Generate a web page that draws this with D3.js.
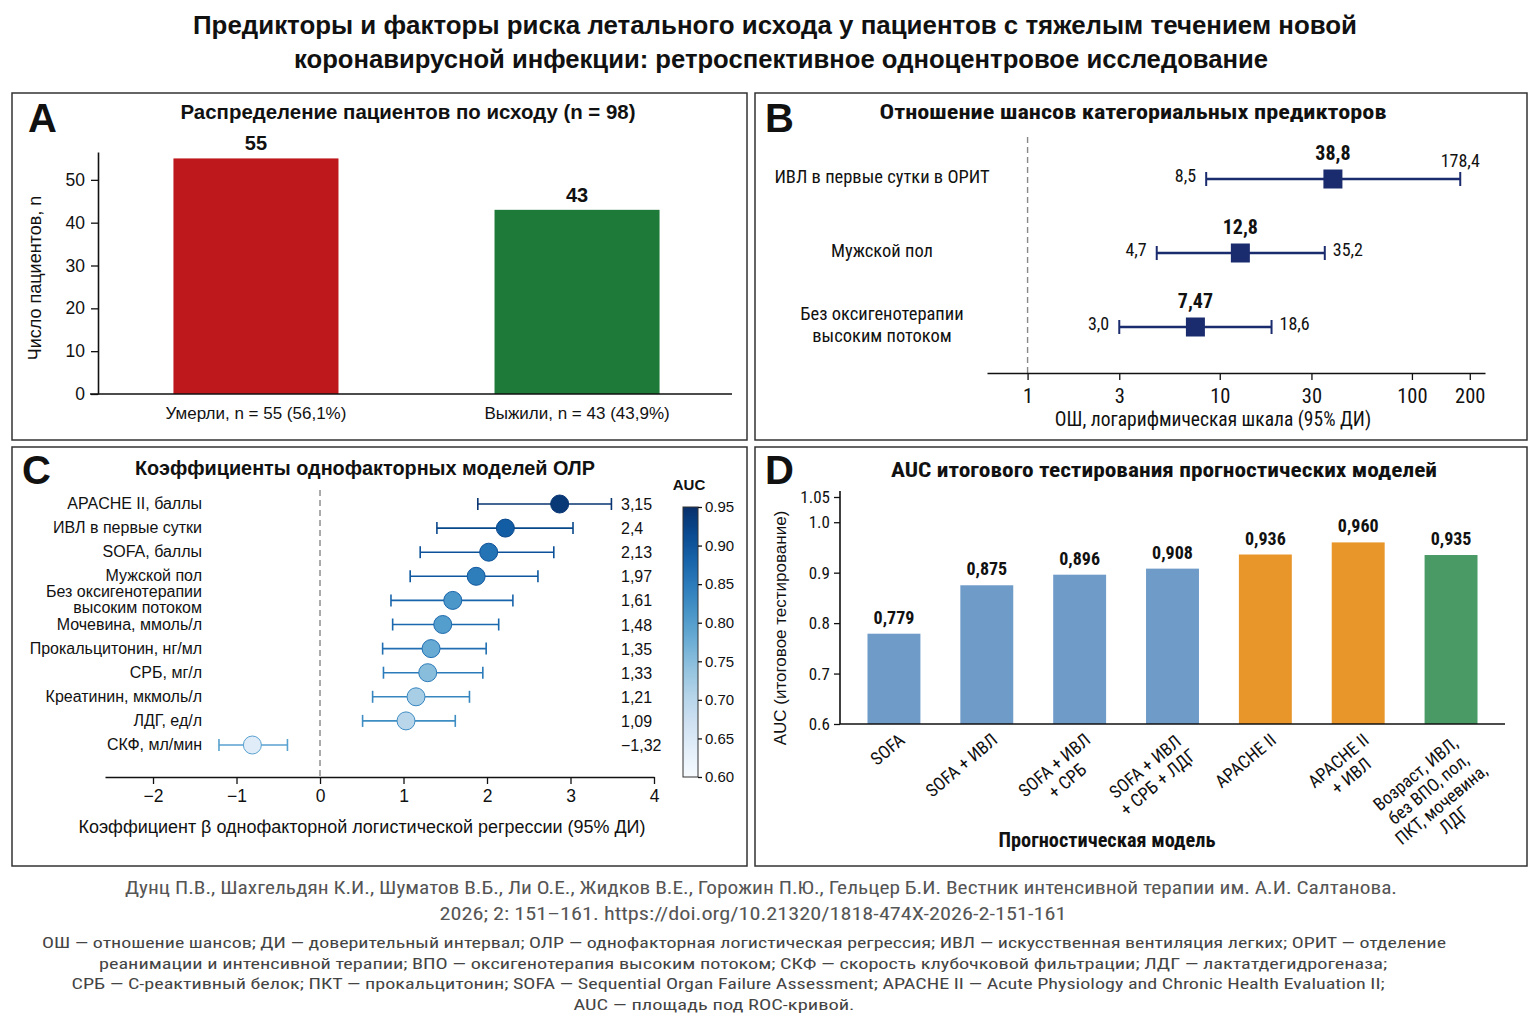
<!DOCTYPE html>
<html><head><meta charset="utf-8">
<script src="https://cdn.jsdelivr.net/npm/d3@7/dist/d3.min.js"></script>
<style>
html,body{margin:0;padding:0;background:#fff;}
svg{display:block;}
</style></head>
<body><svg id="c" width="1536" height="1024"></svg>
<script>
// ---------------- DATA ----------------
const titleLines = [
  "Предикторы и факторы риска летального исхода у пациентов с тяжелым течением новой",
  "коронавирусной инфекции: ретроспективное одноцентровое исследование"
];
// Panel A
const outcomeCategories = ["Умерли, n = 55 (56,1%)", "Выжили, n = 43 (43,9%)"];
const outcomeCounts = [55, 43];
const outcomeTicks = [0, 10, 20, 30, 40, 50];
// Panel B
const orPredictors = ["ИВЛ в первые сутки в ОРИТ", "Мужской пол", "Без оксигенотерапии\nвысоким потоком"];
const orEstimates = [38.8, 12.8, 7.47];
const orLower = [8.5, 4.7, 3.0];
const orUpper = [178.4, 35.2, 18.6];
const orEstimateLabels = ["38,8", "12,8", "7,47"];
const orLowerLabels = ["8,5", "4,7", "3,0"];
const orUpperLabels = ["178,4", "35,2", "18,6"];
const orTicks = [1, 3, 10, 30, 100, 200];
// Panel C
const lrPredictors = ["APACHE II, баллы", "ИВЛ в первые сутки", "SOFA, баллы", "Мужской пол",
  "Без оксигенотерапии\nвысоким потоком", "Мочевина, ммоль/л", "Прокальцитонин, нг/мл", "СРБ, мг/л",
  "Креатинин, мкмоль/л", "ЛДГ, ед/л", "СКФ, мл/мин"];
const lrBeta  = [2.87, 2.22, 2.02, 1.87, 1.59, 1.47, 1.33, 1.29, 1.15, 1.03, -0.81];
const lrLower = [1.89, 1.40, 1.20, 1.08, 0.85, 0.87, 0.75, 0.76, 0.63, 0.51, -1.21];
const lrUpper = [3.49, 3.03, 2.80, 2.61, 2.31, 2.14, 1.99, 1.95, 1.79, 1.62, -0.39];
const lrBetaLabels = ["3,15", "2,4", "2,13", "1,97", "1,61", "1,48", "1,35", "1,33", "1,21", "1,09", "\u22121,32"];
const lrAuc = [0.94, 0.89, 0.86, 0.845, 0.81, 0.80, 0.78, 0.75, 0.72, 0.70, 0.64];
const lrTicks = [-2, -1, 0, 1, 2, 3, 4];
const aucColorTicks = [0.60, 0.65, 0.70, 0.75, 0.80, 0.85, 0.90, 0.95];
// Panel D
const models = ["SOFA", "SOFA + ИВЛ", "SOFA + ИВЛ\n+ СРБ", "SOFA + ИВЛ\n+ СРБ + ЛДГ", "APACHE II",
  "APACHE II\n+ ИВЛ", "Возраст, ИВЛ,\nбез ВПО, пол,\nПКТ, мочевина,\nЛДГ"];
const modelAuc = [0.779, 0.875, 0.896, 0.908, 0.936, 0.960, 0.935];
const modelAucLabels = ["0,779", "0,875", "0,896", "0,908", "0,936", "0,960", "0,935"];
const modelFamily = ["SOFA", "SOFA", "SOFA", "SOFA", "APACHE II", "APACHE II", "Многофакторная"];
const modelAxisTicks = [0.6, 0.7, 0.8, 0.9, 1.0, 1.05];
// Footer
const citationLines = [
  "Дунц П.В., Шахгельдян К.И., Шуматов В.Б., Ли О.Е., Жидков В.Е., Горожин П.Ю., Гельцер Б.И. Вестник интенсивной терапии им. А.И. Салтанова.",
  "2026; 2: 151–161. https://doi.org/10.21320/1818-474X-2026-2-151-161"
];
const abbrevLines = [
  "ОШ — отношение шансов; ДИ — доверительный интервал; ОЛР — однофакторная логистическая регрессия; ИВЛ — искусственная вентиляция легких; ОРИТ — отделение",
  "реанимации и интенсивной терапии; ВПО — оксигенотерапия высоким  потоком; СКФ — скорость клубочковой фильтрации; ЛДГ — лактатдегидрогеназа;",
  "СРБ — С-реактивный белок; ПКТ — прокальцитонин; SOFA — Sequential Organ Failure Assessment; APACHE II — Acute Physiology and Chronic Health Evaluation II;",
  "AUC — площадь под ROC-кривой."
];

// ---------------- DRAW ----------------
const SANS = "'Liberation Sans', Arial, Helvetica, sans-serif";
const NARROW = "'Liberation Sans Narrow', 'Roboto Condensed', 'DejaVu Sans Condensed', 'Liberation Sans', sans-serif";
const svg = d3.select("#c");
svg.append("rect").attr("width", 1536).attr("height", 1024).attr("fill", "#fff");

function txt(g, x, y, s, o = {}) {
  const t = g.append("text").attr("x", x).attr("y", y).text(s)
    .attr("font-family", o.family || SANS).attr("font-size", o.size || 16)
    .attr("font-weight", o.weight || "normal").attr("fill", o.fill || "#111")
    .attr("text-anchor", o.anchor || "start");
  if (o.len) t.attr("textLength", o.len).attr("lengthAdjust", "spacingAndGlyphs");
  return t;
}
function styleAxis(g, size, family) {
  g.selectAll("path.domain").attr("stroke", "#111").attr("stroke-width", 1.6);
  g.selectAll(".tick line").attr("stroke", "#111").attr("stroke-width", 1.3);
  g.selectAll(".tick text").attr("font-size", size).attr("font-family", family).attr("fill", "#111");
}

// Title
txt(svg, 775, 34, titleLines[0], {size: 26, weight: "bold", anchor: "middle", len: 1164, family: SANS});
txt(svg, 781, 68, titleLines[1], {size: 26, weight: "bold", anchor: "middle", len: 974, family: SANS});

// Panel boxes
[[12, 93, 735, 347], [755, 93, 772, 347], [12, 447, 735, 419], [755, 447, 772, 419]].forEach(b => {
  svg.append("rect").attr("x", b[0]).attr("y", b[1]).attr("width", b[2]).attr("height", b[3])
    .attr("fill", "none").attr("stroke", "#333").attr("stroke-width", 1.5);
});

// ---------- Panel A ----------
{
  const g = svg.append("g");
  txt(g, 28, 132, "A", {size: 40, weight: "bold", family: SANS});
  txt(g, 408, 119, "Распределение пациентов по исходу (n = 98)", {size: 20.5, weight: "bold", anchor: "middle", len: 455});
  const x = d3.scaleBand().domain(outcomeCategories).range([98, 735]).paddingInner(0.486).paddingOuter(0.235);
  const y = d3.scaleLinear().domain([0, 56.5]).range([394, 152]);
  const col = d3.scaleOrdinal().domain(outcomeCategories).range(["#BE171C", "#1E7A38"]);
  g.selectAll("rect.bar").data(outcomeCounts).join("rect")
    .attr("x", (d, i) => x(outcomeCategories[i])).attr("width", x.bandwidth())
    .attr("y", d => y(d)).attr("height", d => y(0) - y(d))
    .attr("fill", (d, i) => col(outcomeCategories[i]));
  g.selectAll("text.val").data(outcomeCounts).join("text")
    .attr("x", (d, i) => x(outcomeCategories[i]) + x.bandwidth() / 2).attr("y", d => y(d) - 8)
    .attr("text-anchor", "middle").attr("font-family", SANS).attr("font-size", 20).attr("font-weight", "bold")
    .attr("fill", "#111").text(d => d);
  const ya = g.append("g").attr("transform", "translate(98,0)")
    .call(d3.axisLeft(y).tickValues(outcomeTicks).tickSize(7).tickSizeOuter(0).tickPadding(6));
  styleAxis(ya, 17.5, SANS);
  g.append("line").attr("x1", 90).attr("x2", 732).attr("y1", 394).attr("y2", 394).attr("stroke", "#111").attr("stroke-width", 1.6);
  outcomeCategories.forEach(c => txt(g, x(c) + x.bandwidth() / 2, 419, c, {size: 17, anchor: "middle"}));
  txt(g, 0, 0, "Число пациентов, n", {size: 18, anchor: "middle"}).attr("transform", "translate(41,278) rotate(-90)");
}

// ---------- Panel B ----------
{
  const g = svg.append("g");
  txt(g, 765, 132, "B", {size: 40, weight: "bold", family: SANS});
  txt(g, 1133, 119, "Отношение шансов категориальных предикторов", {size: 21, weight: "bold", anchor: "middle", family: NARROW, len: 507});
  const x = d3.scaleLog().domain([0.615, 240]).range([987, 1485]);
  const y = d3.scalePoint().domain(orPredictors).range([179, 327]);
  const navy = "#1B2C6E";
  g.append("line").attr("x1", x(1)).attr("x2", x(1)).attr("y1", 137).attr("y2", 373)
    .attr("stroke", "#888").attr("stroke-width", 1.4).attr("stroke-dasharray", "6,4");
  const xa = g.append("g").attr("transform", "translate(0,373)")
    .call(d3.axisBottom(x).tickValues(orTicks).tickFormat(d3.format("d")).tickSize(7).tickSizeOuter(0).tickPadding(8));
  styleAxis(xa, 20.5, NARROW);
  txt(g, 1213, 426, "ОШ, логарифмическая шкала (95% ДИ)", {size: 19.5, anchor: "middle", family: NARROW});
  orPredictors.forEach((p, i) => {
    const cy = y(p);
    const lines = p.split("\n");
    lines.forEach((l, k) => txt(g, 882, cy + 4 - (lines.length - 1) * 11 + k * 22, l, {size: 18.5, anchor: "middle", family: NARROW}));
    const x0 = x(orLower[i]), x1 = x(orUpper[i]), xm = x(orEstimates[i]);
    g.append("line").attr("x1", x0).attr("x2", x1).attr("y1", cy).attr("y2", cy).attr("stroke", navy).attr("stroke-width", 2.5);
    [x0, x1].forEach(xx => g.append("line").attr("x1", xx).attr("x2", xx).attr("y1", cy - 7).attr("y2", cy + 7).attr("stroke", navy).attr("stroke-width", 2));
    g.append("rect").attr("x", xm - 9.5).attr("y", cy - 9.5).attr("width", 19).attr("height", 19).attr("fill", navy);
    txt(g, xm, cy - 19, orEstimateLabels[i], {size: 20, weight: "bold", anchor: "middle", family: NARROW});
    txt(g, x0 - 10, cy + 3, orLowerLabels[i], {size: 18, anchor: "end", family: NARROW});
    if (x1 > 1440) txt(g, x1, cy - 12, orUpperLabels[i], {size: 18, anchor: "middle", family: NARROW});
    else txt(g, x1 + 8, cy + 3, orUpperLabels[i], {size: 18, family: NARROW});
  });
}

// ---------- Panel C ----------
{
  const g = svg.append("g");
  txt(g, 22, 484, "C", {size: 40, weight: "bold", family: SANS});
  txt(g, 365, 475, "Коэффициенты однофакторных моделей ОЛР", {size: 20, weight: "bold", anchor: "middle", len: 460});
  const x = d3.scaleLinear().domain([-2.575, 4]).range([105, 654]);
  const y = d3.scalePoint().domain(lrPredictors).range([504, 745]);
  const aucScale = d3.scaleLinear().domain([0.60, 0.95]).range([0, 1]).clamp(true);
  const fillC = a => d3.interpolateBlues(aucScale(a));
  const lineC = a => d3.interpolateBlues(0.5 + 0.5 * aucScale(a));
  g.append("line").attr("x1", x(0)).attr("x2", x(0)).attr("y1", 490).attr("y2", 777)
    .attr("stroke", "#888").attr("stroke-width", 1.4).attr("stroke-dasharray", "6,4");
  const xa = g.append("g").attr("transform", "translate(0,777)")
    .call(d3.axisBottom(x).tickValues(lrTicks).tickFormat(d => d < 0 ? "\u2212" + Math.abs(d) : d).tickSize(7).tickSizeOuter(0).tickPadding(6));
  styleAxis(xa, 17.5, SANS);
  txt(g, 362, 833, "Коэффициент β однофакторной логистической регрессии (95% ДИ)", {size: 17.5, anchor: "middle", len: 567});
  lrPredictors.forEach((p, i) => {
    const cy = y(p);
    const lines = p.split("\n");
    lines.forEach((l, k) => txt(g, 202, cy + 5 - (lines.length - 1) * 8 + k * 16, l, {size: 16, anchor: "end"}));
    const c1 = lineC(lrAuc[i]);
    const x0 = x(lrLower[i]), x1 = x(lrUpper[i]);
    g.append("line").attr("x1", x0).attr("x2", x1).attr("y1", cy).attr("y2", cy).attr("stroke", c1).attr("stroke-width", 1.6);
    [x0, x1].forEach(xx => g.append("line").attr("x1", xx).attr("x2", xx).attr("y1", cy - 6).attr("y2", cy + 6).attr("stroke", c1).attr("stroke-width", 1.6));
    g.append("circle").attr("cx", x(lrBeta[i])).attr("cy", cy).attr("r", 9)
      .attr("fill", fillC(lrAuc[i])).attr("stroke", c1).attr("stroke-width", 1);
    txt(g, 621, cy + 6, lrBetaLabels[i], {size: 16});
  });
  // colour bar
  const defs = svg.append("defs");
  const grad = defs.append("linearGradient").attr("id", "aucgrad").attr("x1", 0).attr("y1", 1).attr("x2", 0).attr("y2", 0);
  d3.range(0, 1.0001, 0.1).forEach(t => grad.append("stop").attr("offset", t).attr("stop-color", d3.interpolateBlues(t)));
  const cb = d3.scaleLinear().domain([0.60, 0.95]).range([777, 507]);
  g.append("rect").attr("x", 683).attr("y", 507).attr("width", 15).attr("height", 270)
    .attr("fill", "url(#aucgrad)").attr("stroke", "#333").attr("stroke-width", 1);
  const ca = g.append("g").attr("transform", "translate(698,0)")
    .call(d3.axisRight(cb).tickValues(aucColorTicks).tickFormat(d3.format(".2f")).tickSize(4).tickSizeOuter(0).tickPadding(3));
  ca.select("path.domain").remove();
  styleAxis(ca, 15, SANS);
  txt(g, 689, 490, "AUC", {size: 15, weight: "bold", anchor: "middle"});
}

// ---------- Panel D ----------
{
  const g = svg.append("g");
  txt(g, 765, 484, "D", {size: 40, weight: "bold", family: SANS});
  txt(g, 1164, 477, "AUC итогового тестирования прогностических моделей", {size: 21, weight: "bold", anchor: "middle", family: NARROW, len: 546});
  const x = d3.scaleBand().domain(models).range([840, 1505]).paddingInner(0.43).paddingOuter(0.296);
  const y = d3.scaleLinear().domain([0.6, 1.05]).range([724, 497]);
  const col = d3.scaleOrdinal().domain(["SOFA", "APACHE II", "Многофакторная"]).range(["#6F9BC9", "#E8952A", "#4A9A66"]);
  g.selectAll("rect.bar").data(modelAuc).join("rect")
    .attr("x", (d, i) => x(models[i])).attr("width", x.bandwidth())
    .attr("y", d => y(d)).attr("height", d => y(0.6) - y(d))
    .attr("fill", (d, i) => col(modelFamily[i]));
  g.selectAll("text.val").data(modelAuc).join("text")
    .attr("x", (d, i) => x(models[i]) + x.bandwidth() / 2).attr("y", d => y(d) - 10)
    .attr("text-anchor", "middle").attr("font-family", NARROW).attr("font-size", 18).attr("font-weight", "bold")
    .attr("fill", "#111").text((d, i) => modelAucLabels[i]);
  const ya = g.append("g").attr("transform", "translate(840,0)")
    .call(d3.axisLeft(y).tickValues(modelAxisTicks).tickFormat(d => d === 1.05 ? "1.05" : d.toFixed(1)).tickSize(6).tickSizeOuter(0).tickPadding(4));
  ya.select("path.domain").attr("d", "M0,491V724");
  styleAxis(ya, 17, NARROW);
  g.append("line").attr("x1", 840).attr("x2", 1505).attr("y1", 724).attr("y2", 724).attr("stroke", "#111").attr("stroke-width", 1.6);
  models.forEach(m => {
    const lines = m.split("\n");
    const lg = g.append("g").attr("transform", `translate(${x(m) + x.bandwidth() / 2 + 12},742) rotate(-40)`);
    const ts = lines.map((l, k) => txt(lg, 0, k * 20, l, {size: 18, anchor: "middle", family: NARROW}));
    const w = d3.max(ts, t => t.node().getComputedTextLength());
    ts.forEach(t => t.attr("x", -w / 2));
  });
  txt(g, 1107, 847, "Прогностическая модель", {size: 20, weight: "bold", anchor: "middle", family: NARROW, len: 217});
  txt(g, 0, 0, "AUC (итоговое тестирование)", {size: 17, anchor: "middle"}).attr("transform", "translate(786,628) rotate(-90)");
}

// ---------- Footer ----------
txt(svg, 761, 894, citationLines[0], {size: 18, anchor: "middle", fill: "#555", family: NARROW, len: 1272});
txt(svg, 753, 920, citationLines[1], {size: 18, anchor: "middle", fill: "#555", family: NARROW, len: 627});
const abX = [744, 743, 728, 714], abW = [1404, 1288, 1313, 281];
abbrevLines.forEach((l, i) => txt(svg, abX[i], 948 + i * 20.5, l, {size: 15.5, anchor: "middle", fill: "#444", family: NARROW, len: abW[i]}));
</script>
</body></html>
